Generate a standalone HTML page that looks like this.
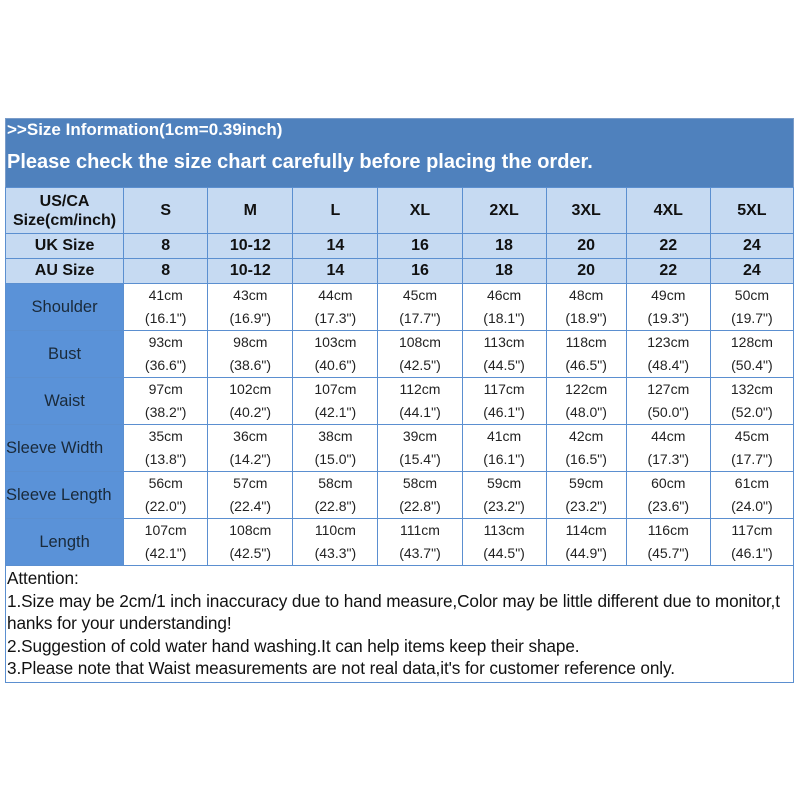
<!DOCTYPE html>
<html><head><meta charset="utf-8"><style>
html,body{margin:0;padding:0;background:#fff;width:800px;height:800px;overflow:hidden;font-family:"Liberation Sans",Arial,sans-serif}
#wrap{position:absolute;left:5px;top:118px;width:789px}
.hd{background:#4f81bd;color:#fff;font-weight:bold;height:69px;border:1px solid #7a9cc9;border-bottom:none;box-sizing:border-box}
.hd .a{position:absolute;left:2px;top:2px;font-size:17px}
.hd .b{position:absolute;left:2px;top:33px;font-size:20px}
table{border-collapse:collapse;table-layout:fixed;width:789px}
td{border:1px solid #5b8fd0;text-align:center;padding:0;overflow:hidden;white-space:nowrap}
tr.h td{background:#c6daf2;font-weight:bold;font-size:16px;color:#111}
tr.d td{height:46px;font-size:14px;color:#222;line-height:23px}
tr.d td.l{background:#5a92d8;color:#1a2a3a;font-size:16.5px}
.att{border:1px solid #5b8fd0;border-top:none;height:117px;box-sizing:border-box;font-size:17.2px;color:#111;padding:1px 0 0 1px;line-height:22.5px;letter-spacing:-0.1px;white-space:nowrap}
</style></head><body>
<div id="wrap">
<div class="hd"><span class="a">&gt;&gt;Size Information(1cm=0.39inch)</span><span class="b">Please check the size chart carefully before placing the order.</span></div>
<table>
<colgroup><col style="width:118px"><col style="width:84px"><col style="width:85px"><col style="width:85px"><col style="width:84px"><col style="width:84px"><col style="width:80px"><col style="width:84px"><col style="width:83px"></colgroup>
<tr class="h"><td style="height:45px;line-height:19px">US/CA<br>Size(cm/inch)</td><td>S</td><td>M</td><td>L</td><td>XL</td><td>2XL</td><td>3XL</td><td>4XL</td><td>5XL</td></tr>
<tr class="h"><td style="height:24px">UK Size</td><td>8</td><td>10-12</td><td>14</td><td>16</td><td>18</td><td>20</td><td>22</td><td>24</td></tr>
<tr class="h"><td style="height:24px">AU Size</td><td>8</td><td>10-12</td><td>14</td><td>16</td><td>18</td><td>20</td><td>22</td><td>24</td></tr>
<tr class="d"><td class="l">Shoulder</td><td>41cm<br>(16.1")</td><td>43cm<br>(16.9")</td><td>44cm<br>(17.3")</td><td>45cm<br>(17.7")</td><td>46cm<br>(18.1")</td><td>48cm<br>(18.9")</td><td>49cm<br>(19.3")</td><td>50cm<br>(19.7")</td></tr>
<tr class="d"><td class="l">Bust</td><td>93cm<br>(36.6")</td><td>98cm<br>(38.6")</td><td>103cm<br>(40.6")</td><td>108cm<br>(42.5")</td><td>113cm<br>(44.5")</td><td>118cm<br>(46.5")</td><td>123cm<br>(48.4")</td><td>128cm<br>(50.4")</td></tr>
<tr class="d"><td class="l">Waist</td><td>97cm<br>(38.2")</td><td>102cm<br>(40.2")</td><td>107cm<br>(42.1")</td><td>112cm<br>(44.1")</td><td>117cm<br>(46.1")</td><td>122cm<br>(48.0")</td><td>127cm<br>(50.0")</td><td>132cm<br>(52.0")</td></tr>
<tr class="d"><td class="l" style="text-align:left">Sleeve Width</td><td>35cm<br>(13.8")</td><td>36cm<br>(14.2")</td><td>38cm<br>(15.0")</td><td>39cm<br>(15.4")</td><td>41cm<br>(16.1")</td><td>42cm<br>(16.5")</td><td>44cm<br>(17.3")</td><td>45cm<br>(17.7")</td></tr>
<tr class="d"><td class="l" style="text-align:left">Sleeve Length</td><td>56cm<br>(22.0")</td><td>57cm<br>(22.4")</td><td>58cm<br>(22.8")</td><td>58cm<br>(22.8")</td><td>59cm<br>(23.2")</td><td>59cm<br>(23.2")</td><td>60cm<br>(23.6")</td><td>61cm<br>(24.0")</td></tr>
<tr class="d"><td class="l">Length</td><td>107cm<br>(42.1")</td><td>108cm<br>(42.5")</td><td>110cm<br>(43.3")</td><td>111cm<br>(43.7")</td><td>113cm<br>(44.5")</td><td>114cm<br>(44.9")</td><td>116cm<br>(45.7")</td><td>117cm<br>(46.1")</td></tr>
</table>
<div class="att">Attention:<br>1.Size may be 2cm/1 inch inaccuracy due to hand measure,Color may be little different due to monitor,t<br>hanks for your understanding!<br>2.Suggestion of cold water hand washing.It can help items keep their shape.<br>3.Please note that Waist measurements are not real data,it's for customer reference only.</div>
</div>
</body></html>
